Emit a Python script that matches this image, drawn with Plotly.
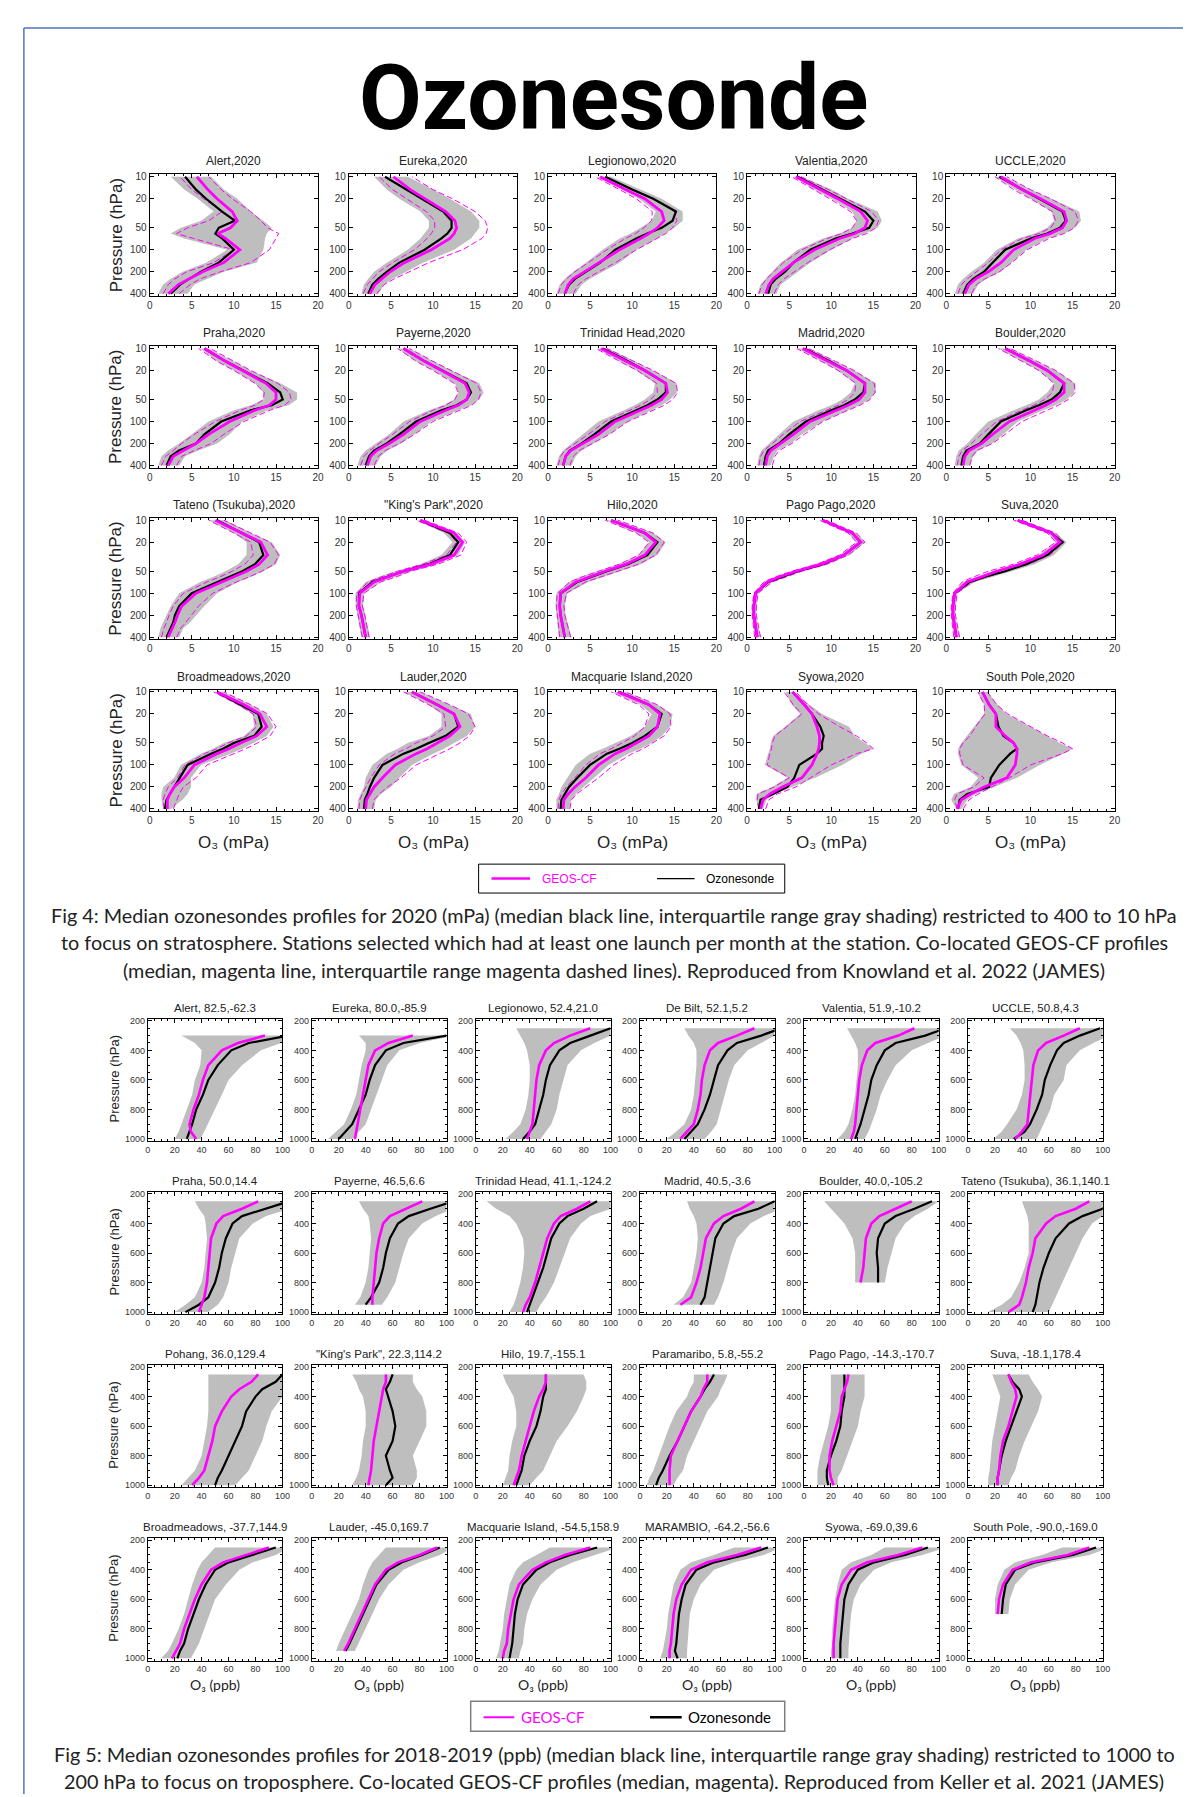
import math
import plotly.graph_objects as go

# ---------------- DATA ----------------
# Fig 4 (stratosphere, mPa) pressure levels (hPa)
S_P = [400, 300, 250, 200, 150, 100, 70, 60, 50, 40, 30, 20, 15, 10]
S_NAMES = ["Alert,2020", "Eureka,2020", "Legionowo,2020", "Valentia,2020", "UCCLE,2020",
           "Praha,2020", "Payerne,2020", "Trinidad Head,2020", "Madrid,2020", "Boulder,2020",
           "Tateno (Tsukuba),2020", "\"King's Park\",2020", "Hilo,2020", "Pago Pago,2020", "Suva,2020",
           "Broadmeadows,2020", "Lauder,2020", "Macquarie Island,2020", "Syowa,2020", "South Pole,2020"]
# ozonesonde median
S_OBS = [
    [2.5, 3.6, 4.7, 6.1, 8.2, 10.0, 8.6, 7.8, 8.2, 10.1, 8.6, 6.7, 5.5, 4.2],
    [2.3, 2.8, 3.5, 4.5, 6.0, 9.0, 11.0, 11.7, 12.2, 12.2, 11.2, 8.7, 6.8, 4.3],
    [2.0, 2.5, 3.2, 4.5, 6.2, 8.0, 10.5, 11.8, 13.5, 14.8, 15.2, 12.5, 10.0, 6.8],
    [2.5, 2.8, 3.4, 4.5, 5.5, 7.5, 10.5, 12.5, 14.5, 15.0, 14.0, 11.0, 9.0, 6.0],
    [2.0, 2.5, 3.2, 4.5, 5.5, 7.0, 10.0, 12.0, 13.5, 14.2, 13.8, 11.0, 9.0, 6.3],
    [2.0, 2.5, 3.5, 5.5, 6.5, 8.5, 12.0, 14.5, 15.8, 15.5, 14.0, 11.0, 9.0, 6.5],
    [2.0, 2.4, 3.0, 4.5, 6.0, 8.0, 11.0, 12.8, 14.0, 14.5, 14.0, 11.0, 9.0, 6.5],
    [1.8, 2.1, 2.6, 4.0, 5.5, 7.5, 10.5, 11.8, 13.0, 14.0, 14.0, 11.5, 9.5, 6.5],
    [2.0, 2.2, 2.5, 3.8, 5.0, 7.0, 10.0, 11.5, 12.8, 13.8, 14.0, 11.8, 9.8, 6.8],
    [1.8, 2.0, 2.4, 4.0, 5.0, 6.5, 9.5, 11.0, 12.5, 13.5, 14.0, 12.0, 10.0, 7.0],
    [2.0, 2.5, 2.8, 3.0, 3.5, 5.0, 8.0, 9.5, 11.0, 12.5, 13.5, 13.0, 11.0, 8.0],
    [2.0, 1.8, 1.6, 1.5, 1.2, 1.2, 2.8, 4.5, 6.5, 9.5, 12.0, 13.0, 12.0, 8.5],
    [2.0, 1.8, 1.6, 1.5, 1.4, 1.5, 3.5, 5.0, 7.0, 9.5, 11.8, 13.0, 11.5, 7.5],
    [1.2, 1.0, 0.9, 0.8, 0.8, 1.0, 2.5, 4.0, 6.0, 9.0, 11.5, 13.5, 12.5, 9.0],
    [1.2, 1.0, 0.9, 0.8, 0.8, 1.0, 2.8, 4.5, 7.0, 9.5, 12.0, 13.8, 12.5, 8.5],
    [1.8, 2.0, 2.4, 2.9, 3.5, 4.5, 7.3, 8.7, 10.0, 12.4, 13.3, 12.9, 10.8, 8.0],
    [1.8, 1.9, 2.2, 2.5, 3.0, 4.0, 6.5, 8.0, 9.5, 11.5, 13.0, 12.5, 10.5, 7.5],
    [1.5, 1.6, 2.0, 2.5, 3.5, 5.0, 7.0, 8.5, 10.0, 11.5, 13.0, 13.5, 12.0, 8.5],
    [1.4, 1.6, 3.1, 4.8, 5.6, 6.2, 8.3, 8.9, 8.9, 9.1, 8.7, 7.7, 6.8, 5.4],
    [1.4, 1.6, 2.5, 5.1, 5.3, 6.3, 7.6, 8.4, 8.0, 6.8, 6.2, 5.9, 5.1, 4.3],
]
# GEOS-CF median
S_MOD = [
    [2.2, 3.4, 4.7, 6.3, 8.8, 10.7, 9.0, 8.1, 9.6, 10.4, 9.8, 8.0, 6.9, 5.6],
    [2.5, 3.1, 3.9, 4.9, 6.6, 9.8, 12.0, 12.5, 12.8, 12.6, 11.5, 9.0, 7.3, 5.3],
    [2.0, 2.4, 3.0, 4.3, 6.0, 8.5, 11.0, 12.0, 13.0, 13.8, 13.5, 11.5, 9.2, 6.2],
    [2.2, 2.6, 3.1, 4.2, 5.5, 8.0, 11.0, 12.8, 14.0, 14.3, 13.5, 10.8, 8.8, 5.8],
    [2.2, 2.7, 3.5, 5.0, 6.5, 8.0, 10.5, 12.3, 13.8, 14.3, 14.0, 11.2, 9.0, 6.5],
    [2.2, 2.8, 4.0, 5.5, 7.0, 9.5, 12.5, 14.2, 15.0, 15.0, 13.8, 11.0, 9.0, 6.5],
    [2.2, 2.6, 3.3, 4.8, 6.5, 8.5, 11.5, 13.0, 14.0, 14.3, 13.8, 11.0, 9.0, 6.5],
    [1.8, 2.1, 2.7, 4.2, 6.0, 8.0, 11.0, 12.3, 13.5, 14.2, 14.0, 11.5, 9.3, 6.3],
    [2.2, 2.4, 2.8, 4.0, 5.5, 7.5, 10.5, 12.0, 13.3, 14.0, 14.0, 11.8, 9.6, 6.6],
    [2.0, 2.2, 2.7, 4.2, 5.5, 7.5, 10.5, 11.8, 13.0, 14.0, 14.0, 12.0, 10.0, 7.0],
    [2.2, 2.7, 3.0, 3.3, 3.8, 5.5, 8.5, 10.0, 11.5, 13.0, 14.0, 13.2, 11.0, 7.8],
    [2.0, 1.8, 1.6, 1.5, 1.2, 1.3, 3.0, 4.7, 6.5, 9.8, 12.5, 13.5, 12.5, 8.5],
    [2.0, 1.8, 1.6, 1.5, 1.4, 1.5, 3.3, 4.8, 6.8, 9.3, 11.5, 12.8, 11.5, 7.5],
    [1.2, 1.0, 0.9, 0.8, 0.8, 1.0, 2.4, 3.8, 5.8, 8.8, 11.5, 13.5, 12.5, 9.0],
    [1.2, 1.0, 0.9, 0.8, 0.8, 1.0, 2.5, 4.0, 6.0, 8.8, 11.5, 13.5, 12.5, 8.5],
    [2.1, 2.1, 2.4, 2.9, 4.1, 5.3, 8.0, 9.4, 10.8, 12.7, 13.9, 13.1, 11.2, 8.0],
    [2.0, 2.1, 2.5, 3.0, 4.0, 5.5, 8.0, 9.3, 10.5, 12.0, 13.2, 12.5, 10.5, 7.5],
    [1.8, 1.9, 2.4, 3.2, 4.5, 6.0, 8.0, 9.3, 10.5, 12.0, 13.0, 13.3, 12.0, 8.3],
    [1.6, 1.9, 2.7, 4.2, 6.5, 7.7, 8.3, 8.5, 8.6, 8.6, 8.3, 7.7, 6.8, 5.4],
    [1.3, 1.8, 2.9, 4.5, 7.2, 8.2, 8.4, 8.4, 8.0, 7.0, 5.9, 5.9, 5.1, 4.3],
]
# ozonesonde interquartile range (gray)
S_OBS_LO = [
    [1.0, 1.6, 2.5, 3.9, 6.7, 9.2, 4.1, 2.5, 3.7, 6.1, 7.6, 5.7, 4.1, 2.5],
    [1.5, 1.8, 2.3, 3.0, 4.5, 7.0, 8.5, 9.0, 9.5, 9.5, 8.5, 6.0, 4.5, 3.0],
    [1.0, 1.4, 2.0, 3.0, 4.5, 6.5, 8.5, 9.8, 11.0, 12.3, 12.8, 10.8, 8.8, 5.8],
    [1.2, 1.6, 2.2, 3.0, 4.0, 6.0, 9.0, 11.0, 12.5, 13.0, 12.5, 10.0, 8.0, 5.5],
    [1.0, 1.4, 2.0, 3.0, 4.5, 6.0, 8.5, 10.5, 12.0, 12.8, 12.5, 10.0, 8.2, 5.8],
    [1.0, 1.4, 2.2, 3.5, 5.0, 7.0, 10.0, 12.0, 13.5, 13.5, 12.5, 10.0, 8.0, 6.0],
    [1.0, 1.4, 2.0, 3.2, 4.8, 6.5, 9.5, 11.2, 12.5, 13.0, 12.6, 10.0, 8.0, 5.8],
    [1.0, 1.3, 1.8, 2.8, 4.2, 6.0, 9.0, 10.3, 11.5, 12.5, 12.7, 10.5, 8.5, 5.8],
    [1.2, 1.4, 1.7, 2.6, 3.8, 5.5, 8.5, 10.0, 11.3, 12.3, 12.8, 10.8, 8.8, 6.0],
    [1.0, 1.2, 1.5, 2.5, 3.5, 5.0, 8.0, 9.5, 11.0, 12.0, 12.8, 11.0, 9.0, 6.2],
    [1.0, 1.3, 1.6, 2.0, 2.5, 3.5, 6.0, 7.5, 9.0, 10.5, 11.5, 11.5, 10.0, 7.0],
    [1.5, 1.3, 1.1, 1.0, 0.8, 0.8, 2.0, 3.5, 5.5, 8.5, 11.0, 12.3, 11.3, 8.0],
    [1.3, 1.2, 1.1, 1.0, 0.9, 1.0, 2.5, 3.8, 5.8, 8.3, 10.8, 12.0, 10.5, 6.8],
    [0.9, 0.8, 0.7, 0.6, 0.6, 0.8, 2.0, 3.4, 5.3, 8.3, 11.0, 13.0, 12.0, 8.6],
    [0.9, 0.8, 0.7, 0.6, 0.6, 0.8, 2.0, 3.5, 5.5, 8.5, 11.0, 13.0, 12.0, 8.0],
    [1.6, 1.4, 1.4, 1.6, 2.9, 3.7, 6.1, 7.5, 8.8, 11.2, 12.4, 12.2, 10.4, 7.6],
    [1.0, 1.1, 1.4, 1.8, 2.0, 2.8, 4.5, 5.8, 7.0, 9.5, 11.0, 11.0, 9.5, 6.5],
    [1.0, 1.0, 1.3, 1.6, 2.3, 3.3, 5.0, 6.5, 8.0, 9.8, 11.5, 12.3, 11.0, 7.6],
    [1.3, 1.1, 1.1, 3.0, 4.8, 2.1, 2.5, 2.7, 2.8, 3.1, 4.5, 6.3, 5.3, 4.6],
    [1.2, 0.6, 0.9, 2.9, 3.8, 1.8, 1.4, 1.4, 1.8, 2.5, 3.3, 4.5, 4.5, 3.7],
]
S_OBS_HI = [
    [4.5, 5.3, 6.9, 8.8, 12.7, 13.5, 13.7, 13.9, 14.5, 13.5, 12.0, 10.4, 8.8, 7.3],
    [3.5, 4.2, 5.2, 6.8, 8.8, 12.5, 14.5, 15.0, 15.5, 15.5, 14.5, 12.0, 10.0, 7.0],
    [3.3, 4.0, 5.0, 6.5, 8.5, 10.5, 13.0, 14.0, 15.0, 16.0, 16.0, 13.5, 11.0, 7.5],
    [3.5, 4.0, 4.8, 6.0, 7.5, 10.0, 12.5, 14.0, 15.5, 16.0, 15.5, 12.0, 10.0, 6.5],
    [3.2, 3.8, 4.8, 6.5, 7.8, 9.5, 12.0, 14.0, 15.3, 16.0, 15.8, 12.5, 10.0, 7.0],
    [3.5, 4.2, 5.8, 8.0, 9.5, 11.0, 14.0, 16.5, 17.5, 17.5, 15.5, 12.0, 10.0, 7.0],
    [3.2, 3.8, 4.6, 6.2, 7.8, 9.8, 13.0, 14.5, 15.5, 16.0, 15.5, 12.2, 10.0, 7.2],
    [2.8, 3.3, 4.0, 5.5, 7.3, 9.5, 12.3, 13.5, 14.5, 15.3, 15.3, 12.5, 10.3, 7.2],
    [2.8, 3.2, 3.6, 5.2, 6.5, 9.0, 12.0, 13.3, 14.5, 15.3, 15.3, 12.7, 10.6, 7.4],
    [2.8, 3.2, 3.8, 5.5, 6.8, 8.5, 11.5, 13.0, 14.3, 15.2, 15.3, 13.0, 10.8, 7.6],
    [3.5, 4.0, 4.8, 5.5, 6.5, 8.0, 10.5, 12.0, 13.5, 15.0, 15.5, 14.5, 12.0, 9.0],
    [2.5, 2.3, 2.1, 2.0, 1.7, 1.8, 3.8, 5.5, 7.5, 10.5, 13.0, 13.8, 12.8, 9.0],
    [2.8, 2.5, 2.3, 2.1, 2.0, 2.3, 4.8, 6.5, 8.5, 11.0, 13.0, 14.0, 12.5, 8.3],
    [1.6, 1.4, 1.2, 1.1, 1.1, 1.3, 3.0, 4.6, 6.6, 9.6, 12.2, 14.0, 13.0, 9.4],
    [1.6, 1.4, 1.2, 1.1, 1.1, 1.3, 3.4, 5.3, 7.8, 10.5, 12.8, 14.3, 13.0, 9.0],
    [2.5, 3.9, 4.5, 4.9, 4.9, 6.1, 9.6, 11.0, 12.4, 13.9, 14.7, 13.9, 12.0, 8.8],
    [3.0, 3.2, 3.8, 5.0, 6.0, 7.5, 10.0, 11.3, 12.5, 14.0, 15.0, 14.5, 12.0, 8.5],
    [2.5, 2.8, 3.3, 4.2, 5.5, 7.2, 9.5, 11.0, 12.3, 13.5, 14.5, 14.8, 13.0, 9.2],
    [1.9, 2.3, 3.2, 5.4, 8.1, 11.3, 13.6, 15.0, 14.0, 12.8, 12.1, 8.9, 7.4, 5.6],
    [1.8, 2.5, 3.5, 5.7, 8.4, 11.1, 13.9, 15.0, 13.5, 11.9, 10.0, 7.2, 6.1, 4.9],
]
# GEOS-CF interquartile range (magenta dashed)
S_MOD_LO = [
    [1.6, 2.2, 3.0, 4.4, 7.6, 10.0, 5.2, 3.2, 4.5, 7.0, 8.6, 6.4, 5.0, 3.6],
    [1.7, 2.2, 2.8, 3.6, 5.2, 7.8, 9.3, 9.8, 10.2, 10.2, 9.2, 6.8, 5.2, 3.6],
    [1.2, 1.6, 2.2, 3.2, 4.8, 7.0, 9.2, 10.4, 11.4, 12.3, 12.4, 10.5, 8.5, 5.6],
    [1.4, 1.8, 2.3, 3.2, 4.3, 6.5, 9.5, 11.2, 12.5, 13.0, 12.3, 9.8, 7.9, 5.3],
    [1.4, 1.8, 2.5, 3.6, 5.0, 6.5, 9.0, 11.0, 12.4, 13.0, 12.6, 10.0, 8.0, 5.8],
    [1.4, 1.9, 2.8, 3.8, 5.3, 7.8, 10.8, 12.5, 13.5, 13.6, 12.5, 10.0, 8.0, 5.8],
    [1.4, 1.8, 2.5, 3.6, 5.2, 7.2, 10.0, 11.5, 12.6, 13.0, 12.5, 10.0, 8.0, 5.8],
    [1.2, 1.5, 2.0, 3.2, 4.8, 6.8, 9.8, 11.0, 12.2, 13.0, 12.9, 10.6, 8.5, 5.7],
    [1.4, 1.6, 2.0, 3.0, 4.3, 6.3, 9.3, 10.8, 12.0, 12.8, 12.9, 10.8, 8.8, 5.9],
    [1.3, 1.5, 1.9, 3.0, 4.2, 6.0, 9.0, 10.4, 11.7, 12.6, 12.8, 11.0, 9.0, 6.2],
    [1.4, 1.7, 2.0, 2.3, 2.8, 4.0, 6.8, 8.3, 9.8, 11.3, 12.3, 12.0, 10.0, 7.0],
    [1.6, 1.4, 1.2, 1.1, 0.9, 0.9, 2.3, 3.8, 5.8, 8.8, 11.6, 12.8, 11.8, 8.0],
    [1.4, 1.3, 1.2, 1.1, 1.0, 1.1, 2.6, 4.0, 6.0, 8.5, 10.8, 12.0, 10.5, 6.8],
    [0.9, 0.8, 0.7, 0.6, 0.6, 0.8, 2.0, 3.3, 5.3, 8.3, 11.0, 13.0, 12.0, 8.6],
    [0.9, 0.8, 0.7, 0.6, 0.6, 0.8, 1.9, 3.2, 5.0, 8.0, 10.8, 13.0, 12.0, 8.0],
    [1.7, 1.6, 1.8, 2.2, 3.3, 4.2, 6.5, 8.0, 9.3, 11.5, 12.7, 12.3, 10.5, 7.6],
    [1.2, 1.3, 1.6, 2.0, 2.6, 3.6, 5.5, 6.8, 8.0, 10.0, 11.5, 11.3, 9.5, 6.5],
    [1.2, 1.3, 1.6, 2.2, 3.2, 4.5, 6.2, 7.5, 8.8, 10.3, 11.5, 12.0, 10.8, 7.5],
    [1.4, 1.2, 1.3, 3.2, 5.0, 2.4, 2.7, 2.9, 3.0, 3.3, 4.7, 6.5, 5.5, 4.4],
    [1.3, 1.0, 1.3, 3.3, 4.5, 2.0, 1.6, 1.6, 2.0, 2.8, 3.5, 4.6, 4.5, 3.8],
]
S_MOD_HI = [
    [3.5, 4.8, 6.0, 8.4, 12.0, 14.2, 15.0, 15.3, 14.0, 13.2, 12.0, 9.8, 8.5, 7.0],
    [3.3, 4.2, 5.4, 7.2, 9.5, 13.5, 15.8, 16.3, 16.5, 16.2, 15.0, 12.3, 10.0, 7.5],
    [3.0, 3.6, 4.5, 6.0, 8.0, 10.5, 13.0, 14.0, 14.8, 15.3, 15.0, 12.6, 10.0, 6.8],
    [3.2, 3.7, 4.4, 5.6, 7.2, 9.8, 12.5, 14.2, 15.3, 15.6, 14.8, 11.8, 9.7, 6.4],
    [3.0, 3.6, 4.6, 6.3, 7.8, 9.6, 12.2, 14.0, 15.2, 15.7, 15.3, 12.4, 10.0, 7.2],
    [3.2, 3.8, 5.3, 7.3, 8.8, 11.2, 14.3, 16.0, 16.8, 16.6, 15.2, 12.0, 10.0, 7.2],
    [3.0, 3.5, 4.3, 6.0, 7.8, 10.0, 13.2, 14.6, 15.4, 15.7, 15.2, 12.2, 10.0, 7.2],
    [2.6, 3.0, 3.7, 5.3, 7.3, 9.5, 12.5, 13.8, 14.8, 15.4, 15.2, 12.5, 10.2, 7.0],
    [3.0, 3.3, 3.8, 5.3, 6.8, 9.0, 12.0, 13.4, 14.6, 15.2, 15.1, 12.7, 10.5, 7.3],
    [2.8, 3.1, 3.6, 5.5, 7.0, 9.0, 12.0, 13.3, 14.5, 15.3, 15.2, 13.0, 10.8, 7.6],
    [3.2, 3.7, 4.3, 5.0, 5.8, 7.5, 10.3, 11.8, 13.3, 14.8, 15.3, 14.3, 12.0, 8.8],
    [2.4, 2.2, 2.0, 1.9, 1.6, 1.8, 3.8, 5.6, 7.3, 10.6, 13.3, 14.0, 13.0, 9.0],
    [2.7, 2.4, 2.2, 2.0, 1.9, 2.2, 4.5, 6.2, 8.3, 10.8, 12.8, 13.8, 12.5, 8.3],
    [1.6, 1.4, 1.2, 1.1, 1.1, 1.3, 3.0, 4.5, 6.5, 9.5, 12.0, 14.0, 13.0, 9.4],
    [1.6, 1.4, 1.2, 1.1, 1.1, 1.3, 3.1, 4.8, 7.0, 9.8, 12.3, 14.0, 13.0, 9.0],
    [2.8, 3.2, 3.5, 4.0, 5.5, 6.8, 10.0, 11.4, 12.8, 14.3, 15.0, 14.0, 12.0, 8.8],
    [2.8, 3.0, 3.6, 4.6, 6.2, 8.0, 10.8, 12.0, 13.2, 14.3, 15.0, 14.2, 12.0, 8.5],
    [2.6, 2.8, 3.4, 4.5, 6.0, 7.8, 10.0, 11.3, 12.5, 13.8, 14.6, 14.5, 13.0, 9.2],
    [2.2, 2.6, 3.6, 5.8, 7.5, 10.0, 13.0, 15.0, 14.2, 13.0, 11.0, 8.5, 7.2, 5.8],
    [2.0, 2.7, 3.8, 5.5, 7.5, 10.0, 13.8, 15.0, 13.8, 12.0, 10.0, 7.3, 6.0, 4.9],
]
S_XTICKS = [0, 5, 10, 15, 20]
S_YTICKS = [10, 20, 50, 100, 200, 400]

# Fig 5 (troposphere, ppb) pressure levels (hPa)
T_P = [1000, 950, 900, 800, 700, 600, 500, 400, 350, 300, 250]
T_NAMES = ["Alert, 82.5,-62.3", "Eureka, 80.0,-85.9", "Legionowo, 52.4,21.0", "De Bilt, 52.1,5.2",
           "Valentia, 51.9,-10.2", "UCCLE, 50.8,4.3",
           "Praha, 50.0,14.4", "Payerne, 46.5,6.6", "Trinidad Head, 41.1,-124.2", "Madrid, 40.5,-3.6",
           "Boulder, 40.0,-105.2", "Tateno (Tsukuba), 36.1,140.1",
           "Pohang, 36.0,129.4", "\"King's Park\", 22.3,114.2", "Hilo, 19.7,-155.1", "Paramaribo, 5.8,-55.2",
           "Pago Pago, -14.3,-170.7", "Suva, -18.1,178.4",
           "Broadmeadows, -37.7,144.9", "Lauder, -45.0,169.7", "Macquarie Island, -54.5,158.9",
           "MARAMBIO, -64.2,-56.6", "Syowa, -69.0,39.6", "South Pole, -90.0,-169.0"]
N = None
T_OBS = [
    [29, 31, 33, 36, 41, 45, 52, 62, 75, 105, N],
    [20, 25, 30, 35, 40, 43, 47, 55, 68, 100, N],
    [35, 40, 44, 47, 50, 52, 55, 62, 70, 85, 100],
    [33, 38, 43, 48, 52, 55, 58, 65, 72, 90, 105],
    [38, 40, 42, 45, 48, 50, 54, 60, 68, 90, 105],
    [34, 42, 46, 51, 55, 57, 61, 66, 71, 83, 98],
    [28, 38, 45, 50, 53, 55, 58, 63, 70, 88, 105],
    [N, 40, 44, 50, 53, 55, 58, 64, 72, 88, 105],
    [38, 40, 42, 46, 50, 53, 56, 62, 68, 80, 90],
    [N, 45, 48, 50, 52, 54, 56, 62, 70, 88, 100],
    [N, N, N, 55, 55, 54, 55, 60, 68, 82, 95],
    [48, 50, 51, 53, 56, 60, 65, 75, 85, 100, 105],
    [50, 52, 55, 60, 65, 70, 73, 80, 85, 95, 100],
    [55, 60, 58, 55, 60, 62, 60, 57, 55, 58, 60],
    [30, 32, 34, 36, 40, 45, 48, 50, 52, 52, 52],
    [12, 14, 17, 22, 28, 33, 38, 45, 48, 52, 55],
    [18, 17, 17, 20, 24, 27, 28, 30, 30, 30, 30],
    [22, 22, 23, 25, 28, 32, 36, 40, 38, 33, 30],
    [22, 24, 27, 30, 34, 38, 43, 50, 60, 78, 95],
    [N, 25, 28, 33, 38, 43, 48, 57, 67, 82, 95],
    [25, 26, 27, 28, 29, 31, 35, 45, 55, 70, 90],
    [28, 26, 27, 28, 29, 31, 34, 42, 55, 78, 95],
    [27, 27, 27, 28, 29, 30, 33, 40, 52, 75, 92],
    [N, N, N, N, 25, 26, 28, 35, 50, 78, 95],
]
T_MOD = [
    [36, 32, 31, 34, 38, 41, 45, 55, 67, 87, N],
    [32, 33, 34, 36, 38, 40, 42, 47, 57, 75, N],
    [38, 40, 42, 43, 44, 45, 47, 52, 58, 70, 85],
    [30, 35, 40, 43, 45, 46, 48, 52, 58, 72, 85],
    [35, 37, 38, 39, 40, 41, 43, 47, 53, 70, 82],
    [35, 40, 44, 45, 46, 47, 48.5, 52, 58, 71, 83],
    [38, 40, 42, 44, 45, 46, 47, 51, 56, 70, 82],
    [N, 45, 45, 46, 47, 48, 50, 53, 58, 70, 82],
    [35, 37, 40, 44, 47, 50, 53, 58, 63, 75, 85],
    [N, 30, 38, 42, 45, 47, 49, 55, 62, 75, 85],
    [N, N, N, 42, 44, 45, 46, 50, 56, 68, 80],
    [30, 38, 40, 43, 45, 48, 50, 58, 65, 80, 90],
    [33, 38, 42, 45, 48, 50, 55, 62, 68, 77, 82],
    [42, 43, 44, 45, 46, 48, 50, 52, 53, 55, 55],
    [28, 30, 32, 34, 37, 40, 43, 47, 50, 52, 52],
    [22, 22, 22, 23, 28, 33, 38, 45, 47, 50, 50],
    [22, 20, 19, 19, 21, 24, 27, 28, 30, 32, 33],
    [22, 22, 23, 24, 26, 30, 33, 36, 35, 32, 30],
    [18, 21, 24, 27, 31, 35, 40, 47, 56, 73, 90],
    [N, 24, 27, 32, 37, 42, 47, 55, 64, 80, 93],
    [20, 21, 23, 24, 26, 28, 32, 42, 52, 66, 85],
    [22, 22, 23, 24, 25, 27, 31, 38, 50, 72, 90],
    [22, 22, 22, 23, 24, 25, 28, 35, 47, 70, 88],
    [N, N, N, N, 22, 23, 26, 33, 47, 74, 90],
]
T_OBS_LO = [
    [20, 23, 25, 29, 33, 35, 39, 40, 35, 25, N],
    [12, 18, 24, 29, 33, 35, 37, 40, 40, 35, N],
    [22, 28, 33, 37, 39, 40, 40, 38, 36, 33, 30],
    [20, 27, 33, 38, 40, 41, 42, 42, 40, 36, 33],
    [25, 30, 33, 36, 38, 39, 40, 40, 38, 35, 32],
    [19, 25, 29, 36, 40, 42, 42, 41, 39, 36, 31],
    [20, 28, 35, 40, 42, 43, 44, 43, 42, 38, 35],
    [N, 32, 36, 40, 42, 43, 44, 43, 42, 38, 35],
    [25, 28, 30, 33, 35, 36, 35, 30, 25, 15, 8],
    [N, 25, 32, 38, 40, 42, 43, 42, 40, 37, 35],
    [N, N, N, 38, 38, 38, 36, 30, 25, 20, 15],
    [15, 25, 32, 38, 42, 45, 45, 45, 44, 42, 40],
    [25, 30, 35, 40, 42, 44, 45, 45, 45, 45, 45],
    [30, 33, 35, 37, 38, 40, 40, 38, 35, 33, 30],
    [20, 22, 24, 25, 27, 30, 30, 28, 25, 22, 20],
    [5, 7, 10, 14, 18, 22, 27, 35, 37, 40, 40],
    [10, 10, 10, 12, 15, 18, 20, 20, 20, 20, 20],
    [15, 15, 16, 17, 18, 20, 22, 24, 22, 20, 18],
    [10, 15, 18, 23, 27, 30, 33, 37, 40, 45, 50],
    [N, 18, 20, 25, 30, 35, 38, 42, 45, 50, 55],
    [15, 17, 18, 20, 21, 23, 25, 30, 35, 45, 55],
    [15, 17, 18, 20, 21, 23, 25, 30, 38, 55, 70],
    [20, 20, 21, 21, 22, 23, 25, 28, 35, 50, 60],
    [N, N, N, N, 20, 20, 22, 27, 35, 55, 70],
]
T_OBS_HI = [
    [39, 42, 45, 50, 55, 60, 70, 84, 99, 105, N],
    [30, 35, 40, 44, 48, 52, 56, 65, 80, 105, N],
    [48, 52, 56, 60, 62, 65, 68, 78, 88, 100, 105],
    [48, 53, 57, 60, 63, 66, 70, 80, 90, 100, 105],
    [45, 48, 50, 54, 57, 62, 68, 80, 92, 105, 105],
    [51, 54, 56, 61, 64, 71, 73, 83, 93, 105, 105],
    [45, 52, 56, 60, 62, 65, 68, 78, 88, 105, 105],
    [N, 52, 56, 62, 65, 68, 72, 82, 92, 105, 105],
    [45, 48, 52, 58, 62, 66, 70, 78, 85, 100, 105],
    [N, 55, 58, 62, 65, 68, 72, 82, 92, 105, 105],
    [N, N, N, 60, 62, 65, 68, 75, 82, 92, 100],
    [60, 62, 65, 70, 75, 80, 85, 92, 100, 105, 105],
    [65, 70, 75, 80, 85, 88, 92, 100, 105, 105, 105],
    [75, 78, 78, 75, 80, 85, 85, 82, 78, 75, 75],
    [40, 45, 50, 55, 60, 68, 75, 80, 82, 82, 80],
    [25, 28, 32, 35, 40, 45, 50, 58, 60, 63, 65],
    [25, 25, 28, 32, 36, 40, 42, 45, 45, 45, 45],
    [30, 32, 35, 38, 42, 47, 52, 55, 52, 48, 45],
    [32, 35, 38, 42, 46, 50, 58, 68, 78, 95, 105],
    [N, 32, 35, 40, 45, 50, 57, 68, 80, 95, 105],
    [32, 33, 35, 36, 38, 42, 48, 60, 72, 88, 105],
    [35, 35, 35, 36, 37, 40, 45, 55, 70, 92, 105],
    [33, 33, 33, 34, 35, 37, 42, 52, 65, 88, 105],
    [N, N, N, N, 30, 31, 35, 45, 62, 90, 105],
]
T_XTICKS = [0, 20, 40, 60, 80, 100]
T_YTICKS = [200, 400, 600, 800, 1000]

# ---------------- STYLE / LAYOUT ----------------
PAGE_W, PAGE_H = 1199, 1797
OFF = 8  # default body margin of the html page
W, H = PAGE_W - 2 * OFF, PAGE_H - OFF
MAG = "#ff00ff"
GRAY = "#bebebe"
PF = "Liberation Sans, Arial, Helvetica, sans-serif"
CF = "Lato, Carlito, Calibri, sans-serif"


def px(x):
    return (x - OFF) / W


def py(y):
    return 1 - (y - OFF) / H


fig = go.Figure()
layout = {}
annotations = []
shapes = []
axis_n = [0]


def valid(p, *cols):
    out = [[] for _ in range(len(cols) + 1)]
    for i, pv in enumerate(p):
        if all(c[i] is not None for c in cols):
            out[0].append(pv)
            for k, c in enumerate(cols):
                out[k + 1].append(c[i])
    return out


def add_panel(left, top, w, h, p, obs, mod, olo, ohi, mlo, mhi, xcfg, ycfg, lw_obs, lw_mod):
    axis_n[0] += 1
    n = axis_n[0]
    xa = "x" if n == 1 else f"x{n}"
    ya = "y" if n == 1 else f"y{n}"
    xk = "xaxis" if n == 1 else f"xaxis{n}"
    yk = "yaxis" if n == 1 else f"yaxis{n}"
    pp, lo, hi = valid(p, olo, ohi)
    fig.add_trace(go.Scatter(x=lo + hi[::-1], y=pp + pp[::-1], fill="toself", fillcolor=GRAY,
                             mode="lines", line=dict(width=0, color=GRAY), xaxis=xa, yaxis=ya,
                             hoverinfo="skip"))
    if mlo is not None:
        for arr in (mlo, mhi):
            q, v = valid(p, arr)
            fig.add_trace(go.Scatter(x=v, y=q, mode="lines", xaxis=xa, yaxis=ya,
                                     line=dict(color=MAG, width=1, dash="6px,3px")))
    q, v = valid(p, obs)
    fig.add_trace(go.Scatter(x=v, y=q, mode="lines", xaxis=xa, yaxis=ya,
                             line=dict(color="black", width=lw_obs)))
    q, v = valid(p, mod)
    fig.add_trace(go.Scatter(x=v, y=q, mode="lines", xaxis=xa, yaxis=ya,
                             line=dict(color=MAG, width=lw_mod)))
    common = dict(showgrid=False, zeroline=False, showline=True, linecolor="black", linewidth=1,
                  mirror="ticks", ticks="inside", tickcolor="black", ticklen=4)
    layout[xk] = dict(common, domain=[px(left), px(left + w)], anchor=ya, **xcfg)
    layout[yk] = dict(common, domain=[py(top + h), py(top)], anchor=xa, **ycfg)


def note(text, x, y, font, xanchor="center", angle=0):
    annotations.append(dict(text=text, x=px(x), y=py(y), xref="paper", yref="paper",
                            showarrow=False, font=font, textangle=angle,
                            xanchor=xanchor, yanchor="middle"))


# ---- Fig 4 grid ----
s_xcfg = dict(range=[0, 20], tickvals=S_XTICKS, ticktext=[str(t) for t in S_XTICKS],
              tickfont=dict(family=PF, size=10, color="#333"),
              minor=dict(ticks="inside", dtick=1, ticklen=2, tickcolor="black", showgrid=False))
s_ycfg = dict(type="log", range=[math.log10(430), math.log10(9.3)], tickvals=S_YTICKS,
              ticktext=[str(t) for t in S_YTICKS], tickfont=dict(family=PF, size=10, color="#333"))
for i, name in enumerate(S_NAMES):
    r, c = divmod(i, 5)
    left = 148 + 201 * c
    top = 172 + 172.3 * r
    add_panel(left, top, 170, 122, S_P, S_OBS[i], S_MOD[i], S_OBS_LO[i], S_OBS_HI[i],
              S_MOD_LO[i], S_MOD_HI[i], s_xcfg, s_ycfg, 2.2, 2.8)
    note(name, left + 85, top - 13, dict(family=PF, size=12, color="#222"))
    if c == 0:
        note("Pressure (hPa)", 114, top + 61, dict(family=PF, size=17, color="#222"), angle=-90)
    if r == 3:
        note("O\u2083 (mPa)", left + 85, 842, dict(family=PF, size=17, color="#222"))

# ---- Fig 5 grid ----
t_xcfg = dict(range=[0, 100], tickvals=T_XTICKS, ticktext=[str(t) for t in T_XTICKS],
              tickfont=dict(family=PF, size=9, color="#333"),
              minor=dict(ticks="inside", dtick=5, ticklen=2, tickcolor="black", showgrid=False))
t_ycfg = dict(range=[1015, 185], tickvals=T_YTICKS, ticktext=[str(t) for t in T_YTICKS],
              tickfont=dict(family=PF, size=9, color="#333"),
              minor=dict(ticks="inside", dtick=50, ticklen=2, tickcolor="black", showgrid=False))
for i, name in enumerate(T_NAMES):
    r, c = divmod(i, 6)
    left = 146 + 165.6 * c
    top = 1019 + 173.7 * r
    add_panel(left, top, 136, 123, T_P, T_OBS[i], T_MOD[i], T_OBS_LO[i], T_OBS_HI[i],
              None, None, t_xcfg, t_ycfg, 2.2, 2.6)
    note(name, left + 68, top - 11, dict(family=PF, size=11.5, color="#222"))
    if c == 0:
        note("Pressure (hPa)", 112, top + 61, dict(family=PF, size=13, color="#222"), angle=-90)
    if r == 3:
        note("O\u2083 (ppb)", left + 68, 1687, dict(family=CF, size=14, color="#222"))

# ---- page title ----
note("<b>Ozonesonde</b>", 616, 95.6, dict(family="Roboto, Liberation Sans, Arial", size=91, color="black"))

# ---- legends ----
shapes.append(dict(type="rect", xref="paper", yref="paper", x0=px(480), x1=px(789), y0=py(893),
                   y1=py(864), line=dict(color="black", width=1), fillcolor="white"))
shapes.append(dict(type="line", xref="paper", yref="paper", x0=px(493), x1=px(532), y0=py(878.5),
                   y1=py(878.5), line=dict(color=MAG, width=2.5)))
shapes.append(dict(type="line", xref="paper", yref="paper", x0=px(660), x1=px(698), y0=py(878.5),
                   y1=py(878.5), line=dict(color="black", width=1.2)))
note("GEOS-CF", 542, 878.5, dict(family=PF, size=12, color=MAG), xanchor="left")
note("Ozonesonde", 707, 878.5, dict(family=PF, size=12, color="black"), xanchor="left")

shapes.append(dict(type="rect", xref="paper", yref="paper", x0=px(472), x1=px(789), y0=py(1734),
                   y1=py(1704), line=dict(color="#7f7f7f", width=1.5), fillcolor="white"))
shapes.append(dict(type="line", xref="paper", yref="paper", x0=px(485), x1=px(516), y0=py(1720),
                   y1=py(1720), line=dict(color=MAG, width=2)))
shapes.append(dict(type="line", xref="paper", yref="paper", x0=px(653), x1=px(685), y0=py(1720),
                   y1=py(1720), line=dict(color="black", width=2.5)))
note("GEOS-CF", 521, 1720, dict(family=CF, size=15, color=MAG), xanchor="left")
note("Ozonesonde", 689, 1720, dict(family=CF, size=15, color="black"), xanchor="left")

# ---- captions ----
CAP4 = ["Fig 4: Median ozonesondes profiles for 2020 (mPa) (median black line, interquartile range gray shading) restricted to 400 to 10 hPa",
        "to focus on stratosphere. Stations selected which had at least one launch per month at the station. Co-located GEOS-CF profiles",
        "(median, magenta line, interquartile range magenta dashed lines). Reproduced from Knowland et al. 2022 (JAMES)"]
CAP5 = ["Fig 5: Median ozonesondes profiles for 2018-2019 (ppb) (median black line, interquartile range gray shading) restricted to 1000 to",
        "200 hPa to focus on troposphere. Co-located GEOS-CF profiles (median, magenta). Reproduced from Keller et al. 2021 (JAMES)"]
for k, line in enumerate(CAP4):
    note(line, 617, 915 + 27.5 * k, dict(family=CF, size=19.8, color="#222"))
for k, line in enumerate(CAP5):
    note(line, 617, 1757 + 27 * k, dict(family=CF, size=19.8, color="#222"))

# ---- page frame ----
shapes.append(dict(type="line", xref="paper", yref="paper", x0=px(21), x1=px(21), y0=py(25), y1=0,
                   line=dict(color="#4a78b8", width=1.5)))
shapes.append(dict(type="line", xref="paper", yref="paper", x0=px(21), x1=1, y0=py(25), y1=py(25),
                   line=dict(color="#4a78b8", width=1.5)))

fig.update_layout(width=W, height=H, margin=dict(l=0, r=0, t=0, b=0), showlegend=False,
                  paper_bgcolor="white", plot_bgcolor="white",
                  annotations=annotations, shapes=shapes, **layout)
fig.write_html("out.html")
